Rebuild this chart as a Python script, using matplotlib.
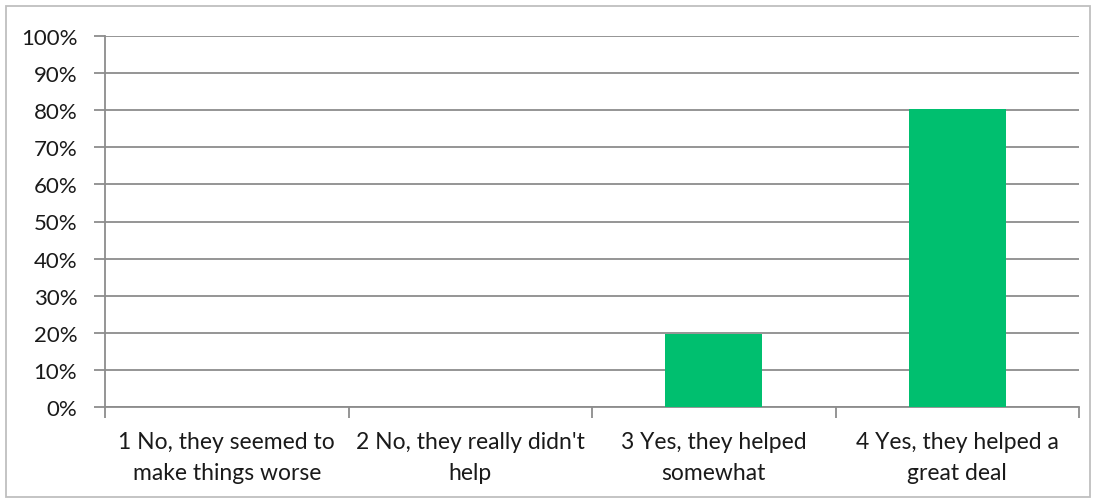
import numpy as np
import matplotlib.pyplot as plt
from matplotlib.ticker import PercentFormatter, FixedLocator
from matplotlib.patches import Rectangle

categories = ["1 No, they seemed to\nmake things worse",
              "2 No, they really didn't\nhelp",
              "3 Yes, they helped\nsomewhat",
              "4 Yes, they helped a\ngreat deal"]
shares = [0.0, 0.0, 0.196, 0.804]
y_ticks = [0.0, 0.1, 0.2, 0.3, 0.4, 0.5, 0.6, 0.7, 0.8, 0.9, 1.0]

plt.rcParams['font.family'] = ['Lato', 'DejaVu Sans']

fig = plt.figure(figsize=(10.96, 5.02), dpi=100)
ax = fig.add_axes([105 / 1096, 1 - 408 / 502, (1079 - 105) / 1096, (408 - 37) / 502])

x = np.arange(len(categories))
ax.bar(x, shares, width=0.4, color='#00bf6f', zorder=3)

ax.set_xlim(-0.5, len(categories) - 0.5)
ax.set_ylim(0, 1)
ax.set_yticks(y_ticks)
ax.yaxis.set_major_formatter(PercentFormatter(1.0, decimals=0))
ax.grid(axis='y', color='#8c8c8c', linewidth=1.3, zorder=0)

ax.set_xticks(x)
ax.set_xticklabels(categories, linespacing=1.6)
ax.xaxis.set_minor_locator(FixedLocator(np.arange(-0.5, len(categories), 1.0)))
ax.tick_params(axis='x', which='major', length=0, pad=17, labelsize=16.5, colors='#1a1a1a')
ax.tick_params(axis='x', which='minor', length=8, width=1.3, color='#8c8c8c')
ax.tick_params(axis='y', length=8, width=1.3, color='#8c8c8c', pad=12, labelsize=16, labelcolor='#1a1a1a')

for side in ['top', 'right']:
    ax.spines[side].set_visible(False)
for side in ['left', 'bottom']:
    ax.spines[side].set_color('#8c8c8c')
    ax.spines[side].set_linewidth(1.3)

fig.patches.append(Rectangle((6 / 1096, 4 / 502), 1084 / 1096, 491 / 502,
                             transform=fig.transFigure, fill=False,
                             edgecolor='#bfbfbf', linewidth=1.3))

fig.savefig('out.png', dpi=100)
